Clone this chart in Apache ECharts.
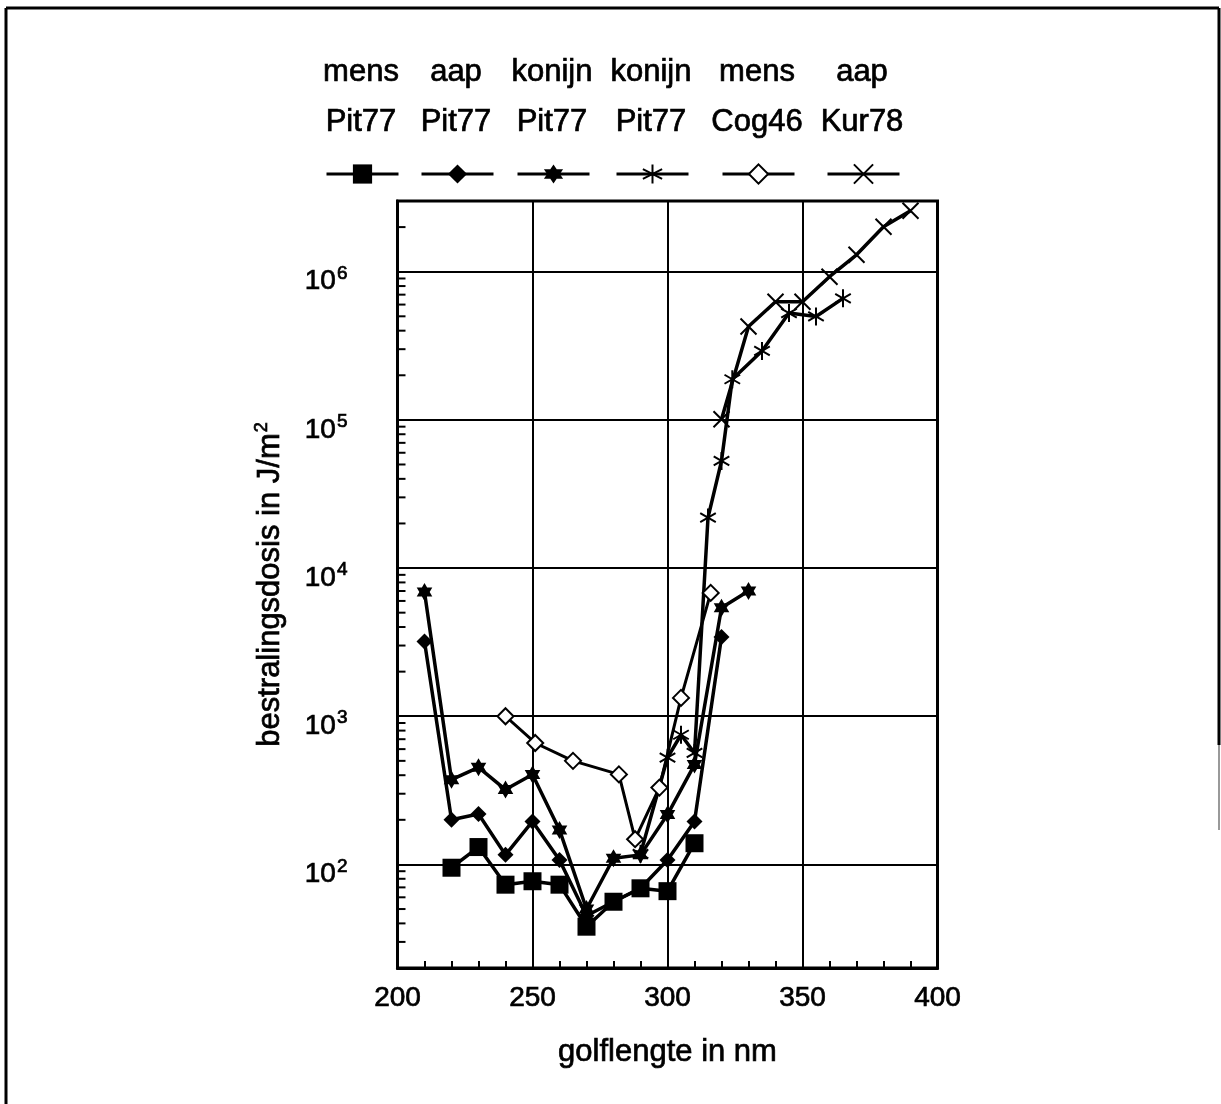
<!DOCTYPE html>
<html>
<head>
<meta charset="utf-8">
<script src="https://cdn.jsdelivr.net/npm/echarts@6/dist/echarts.min.js"></script>
<style>
  html, body { margin: 0; padding: 0; background: #fff; }
  #chart { width: 1221px; height: 1104px; }
</style>
</head>
<body>
<div id="chart"></div>
<script>
// data (wavelength in nm, dose in J/m2)
const wlMensPit = [220, 230, 240, 250, 260, 270, 280, 290, 300, 310];
const doseMensPit = [95, 131, 73, 77, 73, 38, 56, 69, 66, 139];

const wlAapPit = [210, 220, 230, 240, 250, 260, 270, 280, 290, 300, 310, 320];
const doseAapPit = [3200, 200, 219, 116, 195, 107, 45, 56, 69, 107, 195, 3420];

const wlKonijnPitA = [210, 220, 230, 240, 250, 260, 270, 280, 290, 300, 310, 320, 330];
const doseKonijnPitA = [6900, 373, 452, 320, 404, 171, 50, 110, 116, 217, 472, 5400, 7000];

const wlKonijnPitB = [290, 300, 305, 310, 315, 320, 324, 335, 345, 355, 365];
const doseKonijnPitB = [118, 525, 750, 565, 21900, 52800, 188000, 292000, 526000, 499000, 661000];

const wlMensCog = [240, 251, 265, 282, 288, 297, 305, 316];
const doseMensCog = [1000, 660, 500, 405, 148, 330, 1330, 6800];

const wlAapKur = [320, 330, 340, 350, 360, 370, 380, 390];
const doseAapKur = [101000, 427000, 627000, 627000, 925000, 1300000, 2010000, 2580000];

// legend columns
const species = ['mens', 'aap', 'konijn', 'konijn', 'mens', 'aap'];
const sources = ['Pit77', 'Pit77', 'Pit77', 'Pit77', 'Cog46', 'Kur78'];
const seriesNames = ['mens Pit77', 'aap Pit77', 'konijn Pit77 a', 'konijn Pit77 b', 'mens Cog46', 'aap Kur78'];
const legendCenters = [361, 456, 552, 651, 757, 862];

// log minor ticks on the y axis
const yMinorTicks = [
    30, 40, 50, 60, 70, 80, 90,
    200, 300, 400, 500, 600, 700, 800, 900,
    2000, 3000, 4000, 5000, 6000, 7000, 8000, 9000,
    20000, 30000, 40000, 50000, 60000, 70000, 80000, 90000,
    200000, 300000, 400000, 500000, 600000, 700000, 800000, 900000,
    2000000
];

const FONT = '"Liberation Sans", Arial, sans-serif';
// the scan prints heavy, thicken the glyphs a little
const INK = {textBorderColor: '#000', textBorderWidth: 0.7};

// symbols
const starPath = 'path://M10 0 L12.89 5 L18.66 5 L15.77 10 L18.66 15 L12.89 15 L10 20 L7.11 15 L1.34 15 L4.23 10 L1.34 5 L7.11 5 Z';
const asteriskPath = 'path://M10 0 L10 20 M1.34 5 L18.66 15 M1.34 15 L18.66 5';
const crossPath = 'path://M0 0 L20 20 M0 20 L20 0';

const pairs = (xs, ys) => xs.map((x, i) => [x, ys[i]]);

const lineBase = {
    type: 'line',
    showSymbol: true,
    symbolKeepAspect: true,
    lineStyle: {color: '#000', width: 3.5},
    itemStyle: {color: '#000', borderColor: '#000', borderWidth: 0},
    emphasis: {disabled: true},
    animation: false,
};

const series = [
    {
        ...lineBase,
        name: seriesNames[1],
        data: pairs(wlAapPit, doseAapPit),
        symbol: 'diamond',
        symbolSize: 16,
    },
    {
        ...lineBase,
        name: seriesNames[2],
        data: pairs(wlKonijnPitA, doseKonijnPitA),
        symbol: starPath,
        symbolSize: 18,
    },
    {
        ...lineBase,
        name: seriesNames[3],
        data: pairs(wlKonijnPitB, doseKonijnPitB),
        symbol: asteriskPath,
        symbolSize: 18,
        itemStyle: {color: '#000', borderColor: '#000', borderWidth: 2},
    },
    {
        ...lineBase,
        name: seriesNames[4],
        data: pairs(wlMensCog, doseMensCog),
        symbol: 'emptyDiamond',
        symbolSize: 16,
        lineStyle: {color: '#000', width: 3},
        itemStyle: {color: '#000', borderColor: '#000', borderWidth: 2},
    },
    {
        ...lineBase,
        name: seriesNames[5],
        data: pairs(wlAapKur, doseAapKur),
        symbol: crossPath,
        symbolSize: 16,
        itemStyle: {color: '#000', borderColor: '#000', borderWidth: 2},
    },
    {
        ...lineBase,
        name: seriesNames[0],
        data: pairs(wlMensPit, doseMensPit),
        symbol: 'rect',
        symbolSize: 18,
        z: 4,
    },
    {
        // minor log ticks, left axis
        type: 'custom',
        silent: true,
        clip: false,
        z: 5,
        data: yMinorTicks.map(v => [200, v]),
        renderItem: (params, api) => {
            const p = api.coord([200, api.value(1)]);
            return {
                type: 'line',
                shape: {x1: p[0], y1: p[1], x2: p[0] + 8, y2: p[1]},
                style: {stroke: '#000', lineWidth: 2},
            };
        },
    },
];

const legends = seriesNames.map((name, i) => ({
    data: [name],
    left: legendCenters[i] - 36,
    top: 162,
    padding: 0,
    itemWidth: 72,
    itemHeight: 24,
    selectedMode: false,
    formatter: () => '',
    lineStyle: {width: 3},
    textStyle: {fontSize: 1},
}));

const legendTexts = [];
species.forEach((s, i) => {
    legendTexts.push({
        type: 'text', x: legendCenters[i], y: 72,
        style: {text: s, font: '31px ' + FONT, fill: '#000', align: 'center', verticalAlign: 'middle', stroke: '#000', lineWidth: 0.7},
    });
    legendTexts.push({
        type: 'text', x: legendCenters[i], y: 122,
        style: {text: sources[i], font: '31px ' + FONT, fill: '#000', align: 'center', verticalAlign: 'middle', stroke: '#000', lineWidth: 0.7},
    });
});

// outer frame of the scanned figure
const frame = [
    {type: 'line', shape: {x1: 6, y1: 8, x2: 1219, y2: 8}, style: {stroke: '#000', lineWidth: 3}},
    {type: 'line', shape: {x1: 6, y1: 8, x2: 6, y2: 1104}, style: {stroke: '#000', lineWidth: 3}},
    {type: 'line', shape: {x1: 1219, y1: 8, x2: 1219, y2: 745}, style: {stroke: '#000', lineWidth: 3}},
    {type: 'line', shape: {x1: 1219, y1: 745, x2: 1219, y2: 830}, style: {stroke: '#999', lineWidth: 2}},
];

const option = {
    backgroundColor: '#fff',
    animation: false,
    textStyle: {fontFamily: FONT, color: '#000'},
    legend: legends,
    graphic: [...frame, ...legendTexts],
    grid: {
        left: 397.5,
        right: 283.5,
        top: 201,
        bottom: 136,
        show: true,
        borderColor: '#000',
        borderWidth: 3,
    },
    xAxis: {
        type: 'value',
        min: 200,
        max: 400,
        interval: 50,
        name: 'golflengte in nm',
        nameLocation: 'middle',
        nameGap: 69,
        nameTextStyle: {fontSize: 31, color: '#000', fontFamily: FONT, ...INK},
        axisLine: {lineStyle: {color: '#000', width: 3}},
        axisTick: {show: true, inside: true, length: 7, lineStyle: {color: '#000', width: 2}},
        minorTick: {show: true, splitNumber: 5, length: 7, lineStyle: {color: '#000', width: 2}},
        axisLabel: {fontSize: 28, color: '#000', margin: 16, fontFamily: FONT, ...INK},
        splitLine: {show: true, lineStyle: {color: '#000', width: 2}},
    },
    yAxis: {
        type: 'log',
        logBase: 10,
        min: 20,
        max: 3000000,
        name: '{a|bestralingsdosis in J/m}{s|2}',
        nameLocation: 'middle',
        nameGap: 110,
        nameTextStyle: {
            color: '#000',
            rich: {
                a: {fontSize: 31, fontFamily: FONT, color: '#000', ...INK},
                s: {fontSize: 18, fontFamily: FONT, color: '#000', padding: [0, 0, 16, 1], ...INK},
            },
        },
        axisLine: {show: true, lineStyle: {color: '#000', width: 3}},
        axisTick: {show: false},
        axisLabel: {
            margin: 50,
            padding: [20, 0, 0, 0],
            formatter: v => {
                const l = Math.log10(v);
                const e = Math.round(l);
                if (Math.abs(l - e) > 1e-6) return '';
                return '{b|10}{s|' + e + '}';
            },
            rich: {
                b: {fontSize: 28, fontFamily: FONT, color: '#000', ...INK},
                s: {fontSize: 19, fontFamily: FONT, color: '#000', padding: [0, 0, 16, 1], ...INK},
            },
        },
        splitLine: {show: true, lineStyle: {color: '#000', width: 2}},
    },
    series,
};

const chart = echarts.init(document.getElementById('chart'), null, {renderer: 'canvas'});
chart.setOption(option);
</script>
</body>
</html>
